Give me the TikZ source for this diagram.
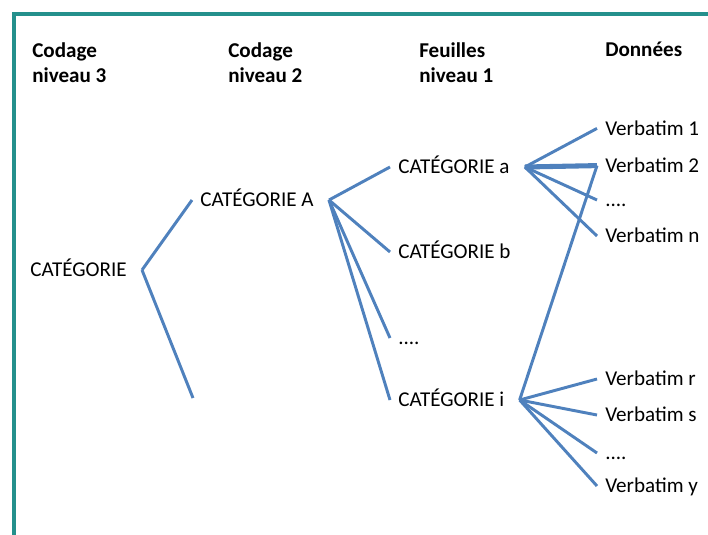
\documentclass[tikz,border=0pt]{standalone}
\usepackage{fontspec}
\setmainfont{Carlito}
\definecolor{branchblue}{HTML}{4F81BD}
\definecolor{frameteal}{HTML}{24908C}
\tikzset{
	level/.style={font=\bfseries\fontsize{15}{18.4}\selectfont, align=left, anchor=north west, inner sep=0pt},
	category/.style={font=\fontsize{15}{18.4}\selectfont, anchor=west, inner xsep=0.2cm, text height=0.34cm, text depth=0cm},
	branch/.style={draw=branchblue, line width=2.1pt}
}

\begin{document}
\begin{tikzpicture}
	\useasboundingbox (0,0) rectangle (17.7,-13.35);
	\draw[frameteal, line width=2.8pt] (0.34,-13.6) |- (17.9,-0.34);

	\node[level] at (0.8,-1.05) (level-3) {Codage\\niveau 3};
	\node[level] at (5.7,-1.05) (level-2) {Codage\\niveau 2};
	\node[level] at (10.475,-1.05) (level-1) {Feuilles\\niveau 1};
	\node[level] at (15.125,-1.05) (data) {Données};

	\node[category] at (0.55,-6.75) (cat) {CATÉGORIE};
	\node[category] at (4.8,-5.0) (cat-A) {CATÉGORIE A};
	\coordinate (cat-empty) at (4.825,-9.95);

	\node[category] at (9.75,-4.175) (cat-a) {CATÉGORIE a};
	\node[category] at (9.75,-6.3) (cat-b) {CATÉGORIE b};
	\node[category] at (9.75,-8.45) (cat-dots) {....};
	\node[category] at (9.75,-10.0) (cat-i) {CATÉGORIE i};

	\node[category] at (14.925,-3.21) (verbatim-1) {Verbatim 1};
	\node[category] at (14.925,-4.14) (verbatim-2) {Verbatim 2};
	\node[category] at (14.925,-5.0) (verbatim-dots-1) {....};
	\node[category] at (14.925,-5.9) (verbatim-n) {Verbatim n};
	\node[category] at (14.925,-9.475) (verbatim-r) {Verbatim r};
	\node[category] at (14.925,-10.375) (verbatim-s) {Verbatim s};
	\node[category] at (14.925,-11.325) (verbatim-dots-2) {....};
	\node[category] at (14.925,-12.15) (verbatim-y) {Verbatim y};

	% level 3 to level 2
	\draw[branch] ([xshift=1.75mm]cat.east) -- (cat-A.west);
	\draw[branch] ([xshift=1.75mm]cat.east) -- (cat-empty);

	% level 2 to level 1
	\draw[branch] ([xshift=1.75mm]cat-A.east) -- (cat-a.west);
	\draw[branch] ([xshift=1.75mm]cat-A.east) -- (cat-b.west);
	\draw[branch] ([xshift=1.75mm]cat-A.east) -- (cat-dots.west);
	\draw[branch] ([xshift=1.75mm]cat-A.east) -- (cat-i.west);

	% leaves to data
	\draw[branch] ([xshift=1.75mm]cat-a.east) -- (verbatim-1.west);
	\draw[branch, line width=3.6pt] ([xshift=1.75mm]cat-a.east) -- (verbatim-2.west);
	\draw[branch] ([xshift=1.75mm]cat-a.east) -- (verbatim-dots-1.west);
	\draw[branch] ([xshift=1.75mm]cat-a.east) -- (verbatim-n.west);

	\draw[branch] ([xshift=1.75mm]cat-i.east) -- (verbatim-2.west);
	\draw[branch] ([xshift=1.75mm]cat-i.east) -- (verbatim-r.west);
	\draw[branch] ([xshift=1.75mm]cat-i.east) -- (verbatim-s.west);
	\draw[branch] ([xshift=1.75mm]cat-i.east) -- (verbatim-dots-2.west);
	\draw[branch] ([xshift=1.75mm]cat-i.east) -- (verbatim-y.west);
\end{tikzpicture}
\end{document}
